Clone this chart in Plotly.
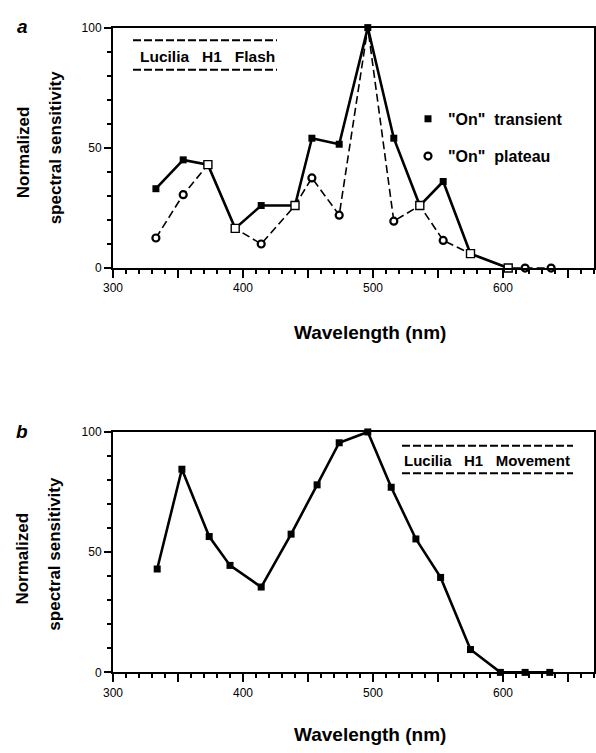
import plotly.graph_objects as go

# ---- data -------------------------------------------------------------
# Panel a: H1 flash responses
wl_a = [333, 354, 373, 394, 414, 440, 453, 474, 496, 516, 536, 554, 575, 604, 617, 637]
on_transient = [33, 45, 43, 16.5, 26, 26, 54, 51.5, 100, 54, 26, 36, 6, 0, None, None]
on_plateau = [12.5, 30.5, 43, 16.5, 10, 26, 37.5, 22, 100, 19.5, 26, 11.5, 6, 0, 0, 0]
# wavelengths where both responses coincide (open squares)
shared_wl = [373, 394, 440, 536, 575, 604]

# Panel b: H1 movement response
wl_b = [334, 353, 374, 390, 414, 437, 457, 474, 496, 514, 533, 552, 575, 598, 617, 636]
movement = [43, 84.5, 56.5, 44.5, 35.5, 57.5, 78, 95.5, 100, 77, 55.5, 39.5, 9.5, 0, 0, 0]

x_ticks = [300, 350, 400, 450, 500, 550, 600, 650]
x_ticktext = ["300", "", "400", "", "500", "", "600", ""]
y_ticks = [0, 50, 100]

# ---- geometry helpers --------------------------------------------------
W, H = 596, 753
L, R = 113, 594


def px(x):
    return (x - L) / (R - L)


def py(y):
    return (H - y) / H


FONT = "Liberation Sans, Arial, sans-serif"
BLACK = "#000000"

fig = go.Figure()

# plateau circles only where the plateau has its own value
own = [
    (w, p) for w, t, p in zip(wl_a, on_transient, on_plateau)
    if w not in shared_wl and t != p
]
plateau_own_wl = [w for w, _ in own]
plateau_own_val = [p for _, p in own]

# Panel a traces
fig.add_trace(go.Scatter(
    x=wl_a, y=on_plateau, mode="lines", xaxis="x", yaxis="y",
    line=dict(color=BLACK, width=1.6, dash="8px,4px"),
    cliponaxis=False, showlegend=False))
fig.add_trace(go.Scatter(
    x=plateau_own_wl, y=plateau_own_val, mode="markers", xaxis="x", yaxis="y",
    marker=dict(symbol="circle", size=7, color="white", line=dict(color=BLACK, width=2.2)),
    cliponaxis=False, showlegend=False))
fig.add_trace(go.Scatter(
    x=wl_a, y=on_transient, mode="lines+markers", xaxis="x", yaxis="y",
    line=dict(color=BLACK, width=2.6),
    marker=dict(symbol="square", size=7, color=BLACK),
    cliponaxis=False, showlegend=False, connectgaps=False))
shared_vals = [on_transient[wl_a.index(w)] for w in shared_wl]
fig.add_trace(go.Scatter(
    x=shared_wl, y=shared_vals, mode="markers", xaxis="x", yaxis="y",
    marker=dict(symbol="square", size=8, color="white", line=dict(color=BLACK, width=1.4)),
    cliponaxis=False, showlegend=False))

# legend entries
fig.add_trace(go.Scatter(
    x=[None], y=[None], mode="markers", name='<b>"On"  transient</b>', legend="legend",
    marker=dict(symbol="square", size=7, color=BLACK)))
fig.add_trace(go.Scatter(
    x=[None], y=[None], mode="markers", name='<b>"On"  plateau</b>', legend="legend2",
    marker=dict(symbol="circle", size=7, color="white", line=dict(color=BLACK, width=2.2))))

# Panel b trace
fig.add_trace(go.Scatter(
    x=wl_b, y=movement, mode="lines+markers", xaxis="x2", yaxis="y2",
    line=dict(color=BLACK, width=2.6),
    marker=dict(symbol="square", size=7, color=BLACK),
    cliponaxis=False, showlegend=False))

axis_common = dict(
    showline=True, linecolor=BLACK, linewidth=2, mirror=True,
    showgrid=False, zeroline=False, ticks="outside", tickcolor=BLACK,
    tickfont=dict(family=FONT, size=12, color=BLACK),
)
xaxis_common = dict(
    axis_common, range=[300, 670], tickmode="array", tickvals=x_ticks,
    ticktext=x_ticktext, ticklen=8, tickwidth=2,
    minor=dict(dtick=10, ticks="outside", ticklen=4, tickwidth=1.6, tickcolor=BLACK, tick0=300),
)
yaxis_common = dict(
    axis_common, range=[0, 100], tickmode="array", tickvals=y_ticks,
    ticklen=7, tickwidth=2,
    minor=dict(dtick=10, ticks="outside", ticklen=4, tickwidth=1.6, tickcolor=BLACK, tick0=0),
)

dom_a = [py(266), py(21)]
dom_b = [py(678), py(433)]

legend_style = dict(xanchor="left", yanchor="middle",
                    font=dict(family=FONT, size=16, color=BLACK),
                    bgcolor="rgba(0,0,0,0)", itemwidth=30)

fig.update_layout(
    width=W, height=H,
    margin=dict(l=L, r=W - R, t=0, b=0),
    paper_bgcolor="white", plot_bgcolor="white",
    xaxis=dict(xaxis_common, domain=[0, 1], anchor="y"),
    yaxis=dict(yaxis_common, domain=dom_a, anchor="x"),
    xaxis2=dict(xaxis_common, domain=[0, 1], anchor="y2"),
    yaxis2=dict(yaxis_common, domain=dom_b, anchor="x2"),
    legend=dict(legend_style, x=px(408), y=py(114)),
    legend2=dict(legend_style, x=px(408), y=py(152)),
    showlegend=True,
)

annotations = []
shapes = []


def text(x, y, s, size, angle=0, xanchor="center"):
    annotations.append(dict(
        x=px(x), y=py(y), xref="paper", yref="paper", text=s, showarrow=False,
        textangle=angle, xanchor=xanchor, yanchor="middle",
        font=dict(family=FONT, size=size, color=BLACK)))


def dashed(x0, x1, y):
    shapes.append(dict(type="line", xref="paper", yref="paper",
                       x0=px(x0), x1=px(x1), y0=py(y), y1=py(y),
                       line=dict(color=BLACK, width=2, dash="8px,3px")))


# panel letters
text(22, 20, "<b><i>a</i></b>", 19)
text(22, 433, "<b><i>b</i></b>", 19)

# axis titles
for yc in (148, 562):
    text(23, yc, "<b>Normalized</b>", 17, angle=-90)
    text(55, yc - 5, "<b>spectral sensitivity</b>", 17, angle=-90)
text(370, 332, "<b>Wavelength (nm)</b>", 19)
text(370, 741, "<b>Wavelength (nm)</b>", 19)

# boxed captions
dashed(133, 277, 34)
dashed(133, 277, 64)
text(207, 50, "<b>Lucilia   H1   Flash</b>", 15.5)
dashed(402, 573, 447)
dashed(402, 573, 475)
text(487, 462, "<b>Lucilia   H1   Movement</b>", 15)

fig.update_layout(annotations=annotations, shapes=shapes)

fig.write_html("out.html")
